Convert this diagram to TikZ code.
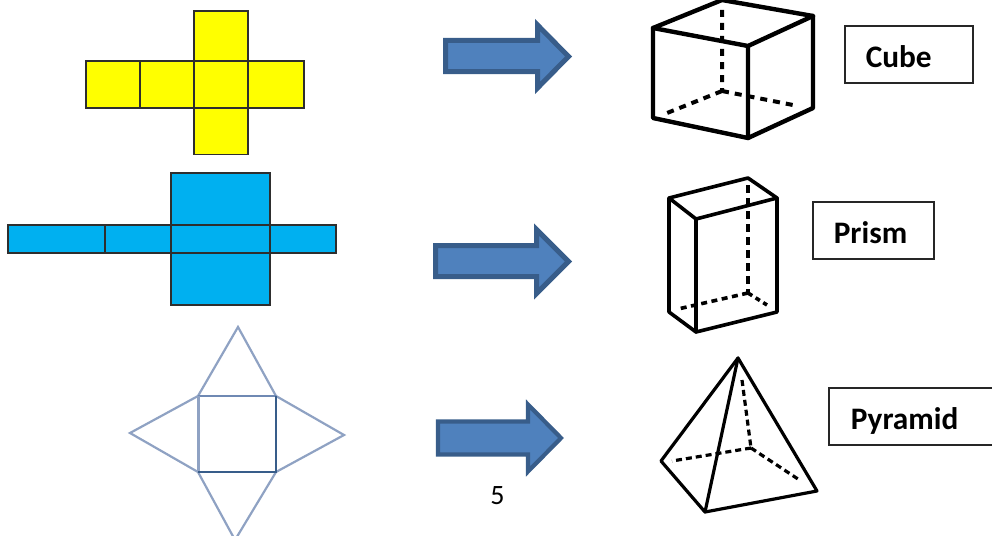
\documentclass[tikz,border=0pt]{standalone}
\usepackage{fontspec}
\setmainfont{Carlito}
\definecolor{netyellow}{HTML}{FFFF00}
\definecolor{netblue}{HTML}{00B0F0}
\definecolor{arrowfill}{HTML}{4F81BD}
\definecolor{arrowedge}{HTML}{385D8A}
\definecolor{pale}{HTML}{8FA2C3}
\definecolor{mid}{HTML}{6F89B3}
\tikzset{
  netface/.style={draw=black!82,line width=1.6pt,line join=miter},
  solidedge/.style={draw=black,line width=4.4pt,line join=round,line cap=round},
  hiddenedge/.style={draw=black,line width=4pt,dash pattern=on 7pt off 6pt},
  bigarrow/.style={fill=arrowfill,draw=arrowedge,line width=5pt,line join=miter},
  labelbox/.style={draw=black!85,line width=1.6pt,anchor=north west,align=left,inner ysep=0pt,
    font=\fontsize{31.3}{34}\selectfont\bfseries,text height=42pt,text depth=15pt},
  pagenum/.style={font=\fontsize{28}{30}\selectfont,inner sep=0pt}
}
\begin{document}
\begin{tikzpicture}[x=1pt,y=-1pt]
\useasboundingbox (0,0) rectangle (992,535);
\clip (0,0) rectangle (992,535);
% yellow net
\foreach \a/\b/\c/\d in {194/11/248/61,86/61/140/108,140/61/194/108,194/61/248/108,248/61/304/108,194/108/248/154.5}
  \draw[netface,fill=netyellow] (\a,\b) rectangle (\c,\d);
% blue net
\draw[netface,fill=netblue] (171,173) rectangle (270,305);
\draw[netface,fill=netblue] (8,225) rectangle (336,253);
\draw[netface] (105,225) -- (105,253) (171,225) -- (171,253) (270,225) -- (270,253);
% pyramid net
\draw[pale,line width=2.2pt,line join=miter]
  (198,396) -- (238,327) -- (276,396) -- (344,435) -- (276,472) -- (235,540) -- (198,472) -- (130,433) -- cycle;
\draw[mid,line width=2.2pt] (198,396) -- (276,396);
\draw[pale,line width=3pt] (198,396) -- (198,472);
\draw[arrowedge,line width=2.2pt] (276,396) -- (276,472) -- (198,472);
% arrows
\draw[bigarrow] (445.5,40.5) -- (537.5,40.5) -- (537.5,25) -- (568.5,56.5) -- (537.5,88) -- (537.5,71.5) -- (445.5,71.5) -- cycle;
\draw[bigarrow] (435.5,245.5) -- (536.5,245.5) -- (536.5,229.5) -- (568.5,261.5) -- (536.5,293.5) -- (536.5,276.5) -- (435.5,276.5) -- cycle;
\draw[bigarrow,line width=4.2pt] (438,421.5) -- (528,421.5) -- (528,404.5) -- (561,438) -- (528,471.5) -- (528,454.5) -- (438,454.5) -- cycle;
% cube
\draw[hiddenedge] (722,10) -- (722,91) (722,91) -- (667,113) (722,91) -- (798,106);
\draw[solidedge] (653,28) -- (722,0) -- (813,16) -- (813,108) -- (748,138) -- (653,118) -- cycle;
\draw[solidedge] (653,28) -- (748,46) -- (813,16) (748,46) -- (748,138);
% prism
\draw[hiddenedge,line width=3.6pt,dash pattern=on 8pt off 5pt] (748,185) -- (748,293);
\draw[hiddenedge,line width=3.6pt,dash pattern=on 6pt off 4.5pt] (748,293) -- (678,309);
\draw[hiddenedge,line width=3.6pt,dash pattern=on 5pt off 4pt] (748,293) -- (767,305);
\draw[solidedge,line width=3.6pt] (669,198) -- (748,178) -- (777,198) -- (777,312) -- (696,332) -- (669,312) -- cycle;
\draw[solidedge,line width=3.6pt] (669,198) -- (696,219) -- (777,198) (696,219) -- (696,332);
% pyramid
\draw[hiddenedge,line width=3.2pt,dash pattern=on 6pt off 4pt] (742,380) -- (751,448) (751,448) -- (672,461) (751,448) -- (801,481);
\draw[solidedge,line width=3.2pt] (738,358) -- (661,461) -- (705,512) -- (817,491) -- cycle;
\draw[solidedge,line width=3.2pt] (738,358) -- (705,512);
% labels
\node[labelbox,minimum width=128pt,inner xsep=21pt,text width=86pt] (cube) at (844,25) {Cube};
\node[labelbox,minimum width=121pt,inner xsep=21pt,text width=79pt] (prism) at (812,201) {Prism};
\node[labelbox,minimum width=180pt,inner xsep=22pt,text width=136pt] (pyramid) at (828,387) {Pyramid};
\node[pagenum] (pageno) at (497.5,496) {5};
\end{tikzpicture}
\end{document}
